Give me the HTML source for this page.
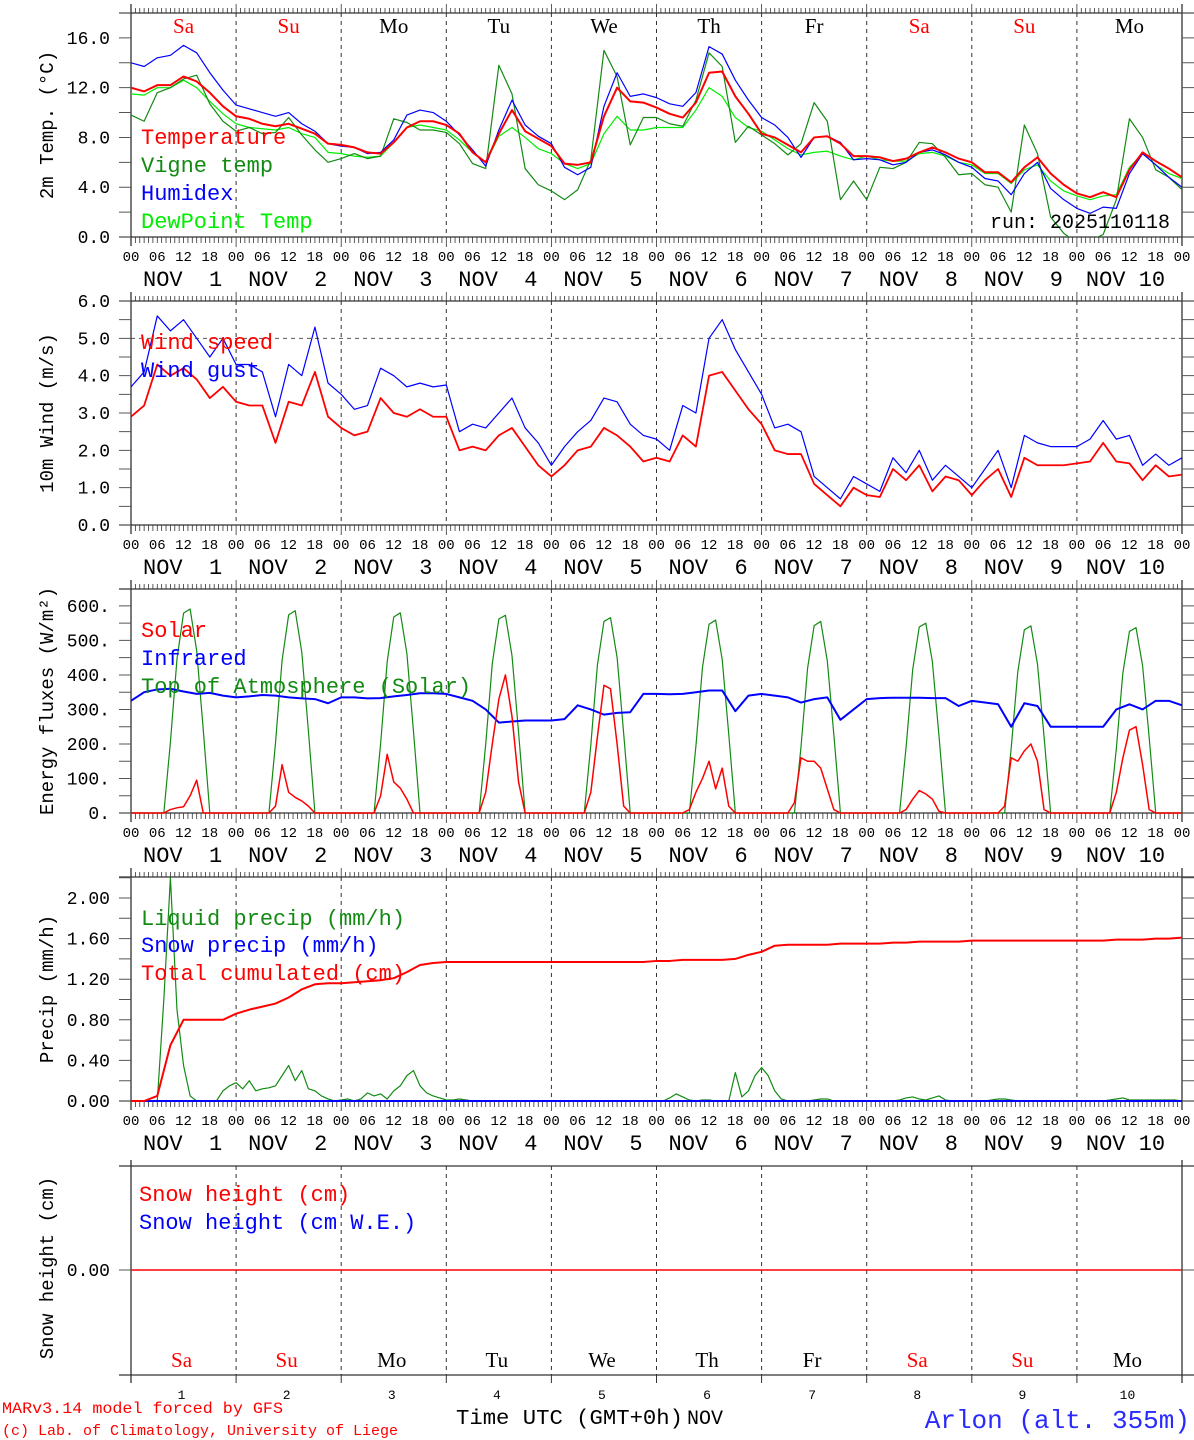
<!DOCTYPE html>
<html><head><meta charset="utf-8"><style>
html,body{margin:0;padding:0;background:#fff;}
svg{display:block;font-family:"Liberation Mono","DejaVu Sans Mono",monospace;}
</style></head>
<body>
<svg id="chart" width="1194" height="1440" viewBox="0 0 1194 1440" xmlns="http://www.w3.org/2000/svg">
<defs>
<clipPath id="c1"><rect x="131" y="13" width="1051" height="224"/></clipPath>
<clipPath id="c2"><rect x="131" y="301" width="1051" height="224"/></clipPath>
<clipPath id="c3"><rect x="131" y="589" width="1051" height="225"/></clipPath>
<clipPath id="c4"><rect x="131" y="877" width="1051" height="225"/></clipPath>
</defs>
</svg>
<script>
// ---- data (3-hourly, 00 UTC Nov 1 to 00 UTC Nov 11) ----
const dayNames = ["Sa","Su","Mo","Tu","We","Th","Fr","Sa","Su","Mo"];
const dayNums = ["1","2","3","4","5","6","7","8","9","10"];
const hourLabels = ["00","06","12","18"];
const temp = [12.0,11.7,12.2,12.2,12.9,12.5,11.6,10.5, 9.7,9.5,9.1,8.9,9.1,8.7,8.3,7.5, 7.4,7.2,6.8,6.7,7.6,8.8,9.3,9.3, 9.0,8.3,6.8,6.0,8.3,10.2,8.5,7.9, 7.3,5.9,5.8,6.0,9.7,12.0,10.9,10.8, 10.4,9.9,9.6,10.8,13.2,13.3,11.3,9.9, 8.3,8.0,7.4,6.8,8.0,8.1,7.5,6.5, 6.5,6.4,6.1,6.3,6.8,7.2,6.8,6.3, 6.0,5.2,5.2,4.4,5.6,6.4,5.1,4.2, 3.5,3.2,3.6,3.2,5.4,6.8,6.1,5.5,4.8];
const vigne = [9.8,9.3,11.6,12.0,12.7,13.0,10.7,9.3, 8.5,8.8,8.3,8.4,9.6,8.2,7.0,6.0, 6.3,6.7,6.3,6.5,9.5,9.2,8.6,8.6, 8.4,7.5,5.9,5.5,13.8,11.5,5.5,4.2, 3.7,3.0,3.8,6.2,15.0,12.9,7.4,9.6, 9.6,9.1,8.9,11.0,14.8,13.7,7.6,8.9, 8.2,7.5,6.6,7.5,10.8,9.3,3.0,4.5, 3.0,5.6,5.5,6.0,7.6,7.5,6.4,5.0, 5.1,4.2,4.0,2.0,9.0,6.7,1.6,0.3, -0.5,-0.3,0.2,3.0,9.5,8.0,5.4,4.8,3.8];
const humidex = [14.0,13.7,14.4,14.6,15.4,14.8,13.2,11.8, 10.6,10.3,10.0,9.7,10.0,9.1,8.5,7.5, 7.3,7.2,6.7,6.8,7.8,9.8,10.2,10.0, 9.3,8.2,7.0,5.7,8.6,11.0,9.0,8.1, 7.5,5.6,5.0,5.6,10.5,13.2,11.3,11.5, 11.2,10.7,10.5,11.6,15.3,14.7,12.6,11.0, 9.6,9.0,8.0,6.4,8.0,8.1,7.6,6.2, 6.3,6.2,5.8,6.0,6.8,7.0,6.6,6.0, 5.6,4.7,4.5,3.4,5.1,6.0,3.9,3.0, 2.3,1.9,2.4,2.3,5.1,6.7,5.8,4.8,4.0];
const dewpoint = [11.5,11.4,12.0,12.0,12.6,12.0,10.9,9.9, 9.1,8.8,8.7,8.6,8.8,8.3,8.0,6.8, 6.7,6.5,6.4,6.5,7.6,8.8,9.0,8.8, 8.6,7.8,6.8,6.0,8.1,8.8,8.0,7.1, 6.7,5.9,5.5,5.9,8.3,9.7,8.6,8.6, 8.8,8.8,8.8,10.2,12.0,11.3,9.6,8.8, 8.5,7.8,7.1,6.6,6.8,6.9,6.5,6.2, 6.5,6.2,6.1,6.1,6.7,6.8,6.5,6.0, 5.8,5.1,5.1,4.3,5.4,5.8,4.5,3.7, 3.3,3.0,3.3,3.4,5.6,6.7,5.8,5.1,4.7];
const windSpeed = [2.9,3.2,4.3,4.0,4.2,3.9,3.4,3.7, 3.3,3.2,3.2,2.2,3.3,3.2,4.1,2.9, 2.6,2.4,2.5,3.4,3.0,2.9,3.1,2.9, 2.9,2.0,2.1,2.0,2.4,2.6,2.1,1.6, 1.3,1.6,2.0,2.1,2.6,2.4,2.1,1.7, 1.8,1.7,2.4,2.1,4.0,4.1,3.6,3.1, 2.7,2.0,1.9,1.9,1.1,0.8,0.5,1.0, 0.8,0.75,1.5,1.2,1.6,0.9,1.3,1.2, 0.8,1.2,1.5,0.75,1.8,1.6,1.6,1.6, 1.65,1.7,2.2,1.7,1.65,1.2,1.6,1.3,1.35];
const windGust = [3.7,4.1,5.6,5.2,5.5,5.0,4.5,5.0, 4.3,4.3,4.1,2.9,4.3,4.0,5.3,3.8, 3.5,3.1,3.2,4.2,4.0,3.7,3.8,3.7, 3.75,2.5,2.7,2.6,3.0,3.4,2.6,2.2, 1.6,2.1,2.5,2.8,3.4,3.3,2.7,2.4, 2.3,2.0,3.2,3.0,5.0,5.5,4.7,4.1, 3.5,2.6,2.7,2.5,1.3,1.0,0.7,1.3, 1.1,0.9,1.8,1.4,2.0,1.2,1.6,1.3, 1.0,1.5,2.0,1.0,2.4,2.2,2.1,2.1, 2.1,2.3,2.8,2.3,2.4,1.6,1.9,1.6,1.8];
const infrared = [325,350,358,360,352,345,348,340, 335,338,342,340,335,332,330,318, 335,335,332,333,338,342,347,347, 345,335,325,300,262,265,268,268, 268,272,312,300,285,290,292,345, 345,344,345,350,355,355,295,340, 345,340,335,320,330,335,270,300, 330,333,334,334,334,333,333,310, 325,320,315,250,318,310,250,250, 250,250,250,300,315,300,325,325,312];
const cumulated = [0,0,0.05,0.55,0.80,0.80,0.80,0.80, 0.86,0.90,0.93,0.96,1.02,1.10,1.15,1.16, 1.16,1.17,1.18,1.19,1.21,1.27,1.34,1.36, 1.37,1.37,1.37,1.37,1.37,1.37,1.37,1.37, 1.37,1.37,1.37,1.37,1.37,1.37,1.37,1.37, 1.38,1.38,1.39,1.39,1.39,1.39,1.40,1.44, 1.47,1.53,1.54,1.54,1.54,1.54,1.55,1.55, 1.55,1.55,1.56,1.56,1.57,1.57,1.57,1.57, 1.58,1.58,1.58,1.58,1.58,1.58,1.58,1.58, 1.58,1.58,1.58,1.59,1.59,1.59,1.60,1.60,1.61];
// ---- 1.5-hourly series ----
const toaSolar = [
0,0,0,0,0,0,205,446,579,591,470,241,0,0,0,0,
0,0,0,0,0,0,203,442,574,586,466,239,0,0,0,0,
0,0,0,0,0,0,201,438,568,580,462,237,0,0,0,0,
0,0,0,0,0,0,199,433,562,573,456,234,0,0,0,0,
0,0,0,0,0,0,197,428,555,566,451,231,0,0,0,0,
0,0,0,0,0,0,194,422,547,559,445,228,0,0,0,0,
0,0,0,0,0,0,192,419,543,555,441,226,0,0,0,0,
0,0,0,0,0,0,191,415,539,550,438,224,0,0,0,0,
0,0,0,0,0,0,188,409,531,542,431,221,0,0,0,0,
0,0,0,0,0,0,186,406,526,537,427,219,0,0,0,0, 0];
const solar = [
0,0,0,0,0,0,10,15,18,50,95,0,0,0,0,0,
0,0,0,0,0,0,20,140,60,45,35,20,0,0,0,0,
0,0,0,0,0,0,50,170,90,72,40,0,0,0,0,0,
0,0,0,0,0,0,60,200,330,400,280,90,0,0,0,0,
0,0,0,0,0,0,60,220,370,360,200,20,0,0,0,0,
0,0,0,0,0,10,60,100,150,70,130,20,0,0,0,0,
0,0,0,0,0,30,160,150,150,130,70,10,0,0,0,0,
0,0,0,0,0,0,10,40,65,55,40,5,0,0,0,0,
0,0,0,0,0,20,160,150,180,200,150,10,0,0,0,0,
0,0,0,0,0,0,60,160,240,250,140,10,0,0,0,0, 0];
const liquid = [
0,0,0,0,0,1.0,2.2,0.9,0.35,0.05,0,0,0,0,0.1,0.15,
0.18,0.12,0.2,0.1,0.12,0.13,0.15,0.25,0.35,0.2,0.3,0.12,0.1,0.05,0.02,0,
0.01,0.02,0,0.02,0.08,0.05,0.07,0.02,0.1,0.15,0.25,0.3,0.15,0.08,0.05,0.03,
0.01,0.01,0.02,0.01,0,0,0,0,0,0,0,0,0,0,0,0,
0,0,0,0,0,0,0,0,0,0,0,0,0,0,0,0,
0,0,0.03,0.07,0.04,0.01,0,0.01,0.01,0,0,0,0.28,0.04,0.1,0.25,
0.33,0.25,0.1,0.02,0,0,0,0,0.01,0.02,0.02,0,0,0,0,0,
0,0,0,0,0,0.01,0.03,0.04,0.02,0.01,0.03,0.05,0.01,0,0,0,
0,0,0,0.01,0.02,0.02,0.01,0,0,0,0,0,0,0,0,0,
0,0,0,0,0,0.01,0.02,0.03,0.01,0.01,0.01,0.01,0.01,0.01,0.01,0.01, 0];
const snowPrecip = [0,0];
const snowHeight = [0,0];

const svg = document.getElementById('chart');
const NS = 'http://www.w3.org/2000/svg';
const X0 = 131, X1 = 1182;
function xh(h){ return X0 + h*(X1-X0)/240; }
function mk(tag, attrs, parent){
  const e = document.createElementNS(NS, tag);
  for (const k in attrs) e.setAttribute(k, attrs[k]);
  (parent||svg).appendChild(e); return e;
}
function txt(x,y,s,size,fill,anchor){
  const t = mk('text',{x:x,y:y,'font-size':size,fill:fill||'#000','text-anchor':anchor||'start'});
  t.setAttribute('xml:space','preserve');
  t.style.whiteSpace='pre';
  t.textContent = s; return t;
}
const panels = [
  {top:13,bot:237,min:0,max:18,minor:2,major:4,fmt:v=>v.toFixed(1),title:'2m Temp. (\u00B0C)',clip:'c1'},
  {top:301,bot:525,min:0,max:6,minor:0.5,major:1,fmt:v=>v.toFixed(1),title:'10m Wind (m/s)',clip:'c2'},
  {top:589,bot:813,min:0,max:649,minor:50,major:100,fmt:v=>v.toFixed(0)+'.',title:'Energy fluxes (W/m\u00B2)',clip:'c3'},
  {top:877,bot:1101,min:0,max:2.207,minor:0.2,major:0.4,fmt:v=>v.toFixed(2),title:'Precip (mm/h)',clip:'c4'}
];
function ys(p,v){ return p.bot - (v-p.min)/(p.max-p.min)*(p.bot-p.top); }

panels.forEach((p,pi)=>{
  const g = mk('g',{});
  
  
  for(let d=1; d<10; d++){
    const l = mk('line',{x1:xh(d*24),x2:xh(d*24),y1:p.top,y2:p.bot,stroke:'#333','stroke-width':1,'stroke-dasharray':'4,4'},g);
    
    
  }
  mk('line',{x1:119,x2:1194,y1:p.top,y2:p.top,stroke:'#333','stroke-width':1.3},g);
  mk('line',{x1:119,x2:1194,y1:p.bot,y2:p.bot,stroke:'#333','stroke-width':1.3},g);
  mk('line',{x1:X0,x2:X0,y1:p.top-9,y2:p.bot+9,stroke:'#333','stroke-width':1.3},g);
  mk('line',{x1:X1,x2:X1,y1:p.top-9,y2:p.bot+9,stroke:'#333','stroke-width':1.3},g);
  let dtop='', dbot='';
  for(let h=1; h<240; h++){
    const x = xh(h).toFixed(2);
    const L = (h%24===0)?9:5;
    dtop += 'M'+x+' '+p.top+'V'+(p.top-L);
    dbot += 'M'+x+' '+p.bot+'V'+(p.bot+L+1);
  }
  mk('path',{d:dtop+dbot,stroke:'#333','stroke-width':0.8,fill:'none'},g);
  let dy='';
  for(let v=p.min; v<=p.max+1e-9; v+=p.minor){
    const y = ys(p,v).toFixed(2);
    dy += 'M119 '+y+'H'+X0+'M'+X1+' '+y+'H1194';
  }
  mk('path',{d:dy,stroke:'#555','stroke-width':1,fill:'none'},g);
  for(let v=p.min; v<=p.max+1e-9; v+=p.major){
    const t = txt(110, ys(p,v)+6, p.fmt(v), 18, '#000','end');
    
    
  }
  const yt = txt(0,0,p.title,19,'#000','middle');
  yt.setAttribute('transform','translate(53,'+((p.top+p.bot)/2)+') rotate(-90)');
  
  
  for(let d=0; d<=10; d++){
    for(let k=0;k<4;k++){
      if(d===10 && k>0) break;
      const t = txt(xh(d*24+k*6), p.bot+24, hourLabels[k], 14, '#000','middle');
      
      
    }
    if(d<10){
      const s = 'NOV' + (dayNums[d].length===1?'  ':' ') + dayNums[d];
      const t = txt(xh(d*24)+(d===9?9:12), p.bot+49, s, 22, '#000','start');
      
      
    }
  }
});

function line(p, arr, step, color, w, name){
  let d='';
  arr.forEach((v,i)=>{ d += (i?'L':'M')+xh(i*step).toFixed(2)+' '+ys(p,v).toFixed(2); });
  const e = mk('path',{d:d,stroke:color,'stroke-width':w,fill:'none','clip-path':'url(#'+p.clip+')','stroke-linejoin':'round'});
  
  
  return e;
}
function legend(x,y,s,color,name){
  const t = txt(x,y,s,22,color);
  
  
}

const P1=panels[0], P2=panels[1], P3=panels[2], P4=panels[3];
dayNames.forEach((n,d)=>{
  const t = txt(xh(d*24+12), 33, n, 21, (n==='Sa'||n==='Su')?'#ff0000':'#000','middle');
  t.setAttribute('font-family','Liberation Serif, serif');
  
  
});
line(P1, dewpoint, 3, '#00ee00', 1.2, 'dewpoint-line');
line(P1, vigne, 3, '#138a13', 1.2, 'vigne-temp-line');
line(P1, humidex, 3, '#0000ff', 1.2, 'humidex-line');
line(P1, temp, 3, '#ff0000', 2, 'temperature-line');
legend(141,144,'Temperature','#ff0000','legend-temperature');
legend(141,172,'Vigne temp','#138a13','legend-vigne-temp');
legend(141,200,'Humidex','#0000ff','legend-humidex');
legend(141,228,'DewPoint Temp','#00ee00','legend-dewpoint');
(function(){const t=txt(1170,228,'run: 2025110118',20,'#000','end');})();

(function(){const l=mk('line',{x1:X0,x2:X1,y1:ys(P2,5),y2:ys(P2,5),stroke:'#555','stroke-dasharray':'4,4','stroke-width':1});})();
line(P2, windGust, 3, '#0000ff', 1.2, 'wind-gust-line');
line(P2, windSpeed, 3, '#ff0000', 1.8, 'wind-speed-line');
legend(141,349,'Wind speed','#ff0000','legend-wind-speed');
legend(141,377,'Wind gust','#0000ff','legend-wind-gust');

line(P3, toaSolar, 1.5, '#138a13', 1.2, 'toa-solar-line');
line(P3, infrared, 3, '#0000ff', 2, 'infrared-line');
line(P3, solar, 1.5, '#ff0000', 1.5, 'solar-line');
legend(141,637,'Solar','#ff0000','legend-solar');
legend(141,665,'Infrared','#0000ff','legend-infrared');
legend(141,693,'Top of Atmosphere (Solar)','#138a13','legend-toa');

line(P4, liquid, 1.5, '#138a13', 1.2, 'liquid-precip-line');
line(P4, snowPrecip, 240, '#0000ff', 2, 'snow-precip-line');
line(P4, cumulated, 3, '#ff0000', 2, 'cumulated-precip-line');
legend(141,925,'Liquid precip (mm/h)','#138a13','legend-liquid-precip');
legend(141,952,'Snow precip (mm/h)','#0000ff','legend-snow-precip');
legend(141,980,'Total cumulated (cm)','#ff0000','legend-cumulated');

(function(){
  const top=1166, bot=1375, y0=1270;
  const g = mk('g',{});
  
  
  for(let d=1; d<10; d++){
    mk('line',{x1:xh(d*24),x2:xh(d*24),y1:top,y2:bot,stroke:'#333','stroke-width':1,'stroke-dasharray':'4,4'},g);
    mk('line',{x1:xh(d*24),x2:xh(d*24),y1:bot,y2:bot+8,stroke:'#333','stroke-width':1},g);
  }
  mk('line',{x1:119,x2:1194,y1:top,y2:top,stroke:'#333','stroke-width':1.3},g);
  mk('line',{x1:119,x2:1194,y1:bot,y2:bot,stroke:'#333','stroke-width':1.3},g);
  mk('line',{x1:X0,x2:X0,y1:top-6,y2:bot+8,stroke:'#333','stroke-width':1.3},g);
  mk('line',{x1:X1,x2:X1,y1:top-6,y2:bot+8,stroke:'#333','stroke-width':1.3},g);
  mk('line',{x1:119,x2:X0,y1:y0,y2:y0,stroke:'#555','stroke-width':1},g);
  mk('line',{x1:X1,x2:1194,y1:y0,y2:y0,stroke:'#555','stroke-width':1},g);
  const tl = txt(110,y0+6,'0.00',18,'#000','end');
  
  
  const yt = txt(0,0,'Snow height (cm)',19,'#000','middle');
  yt.setAttribute('transform','translate(53,1268) rotate(-90)');
  
  
  let d='';
  snowHeight.forEach((v,i)=>{ d += (i?'L':'M')+xh(i*240)+' '+(y0 - v*20); });
  const sl = mk('path',{d:d,stroke:'#ff0000','stroke-width':1.5,fill:'none'},g);
  
  
  dayNames.forEach((n,i)=>{
    const t = txt(xh(i*24+12)-2, 1367, n, 21, (n==='Sa'||n==='Su')?'#ff0000':'#000','middle');
    t.setAttribute('font-family','Liberation Serif, serif');
    
    
    const t2 = txt(xh(i*24+12)-2, 1399, dayNums[i], 13, '#000','middle');
    
    
  });
  legend(139,1201,'Snow height (cm)','#ff0000','legend-snow-height');
  legend(139,1229,'Snow height (cm W.E.)','#0000ff','legend-snow-we');
})();

(function(){
  let t = txt(2,1413,'MARv3.14 model forced by GFS',16,'#ff0000');
  t.setAttribute('textLength','281');
  t.setAttribute('lengthAdjust','spacingAndGlyphs');
  
  
  t = txt(2,1435,'(c) Lab. of Climatology, University of Liege',15,'#ff0000');
  t.setAttribute('textLength','396');
  t.setAttribute('lengthAdjust','spacingAndGlyphs');
  
  
  t = txt(456,1424,'Time UTC (GMT+0h)',21,'#000');
  t.setAttribute('textLength','227');
  t.setAttribute('lengthAdjust','spacingAndGlyphs');
  
  
  t = txt(687,1424,'NOV',20,'#000');
  
  
  t = txt(1190,1428,'Arlon (alt. 355m)',26,'#2a2aff','end');
  
  
})();
</script>
</body></html>
